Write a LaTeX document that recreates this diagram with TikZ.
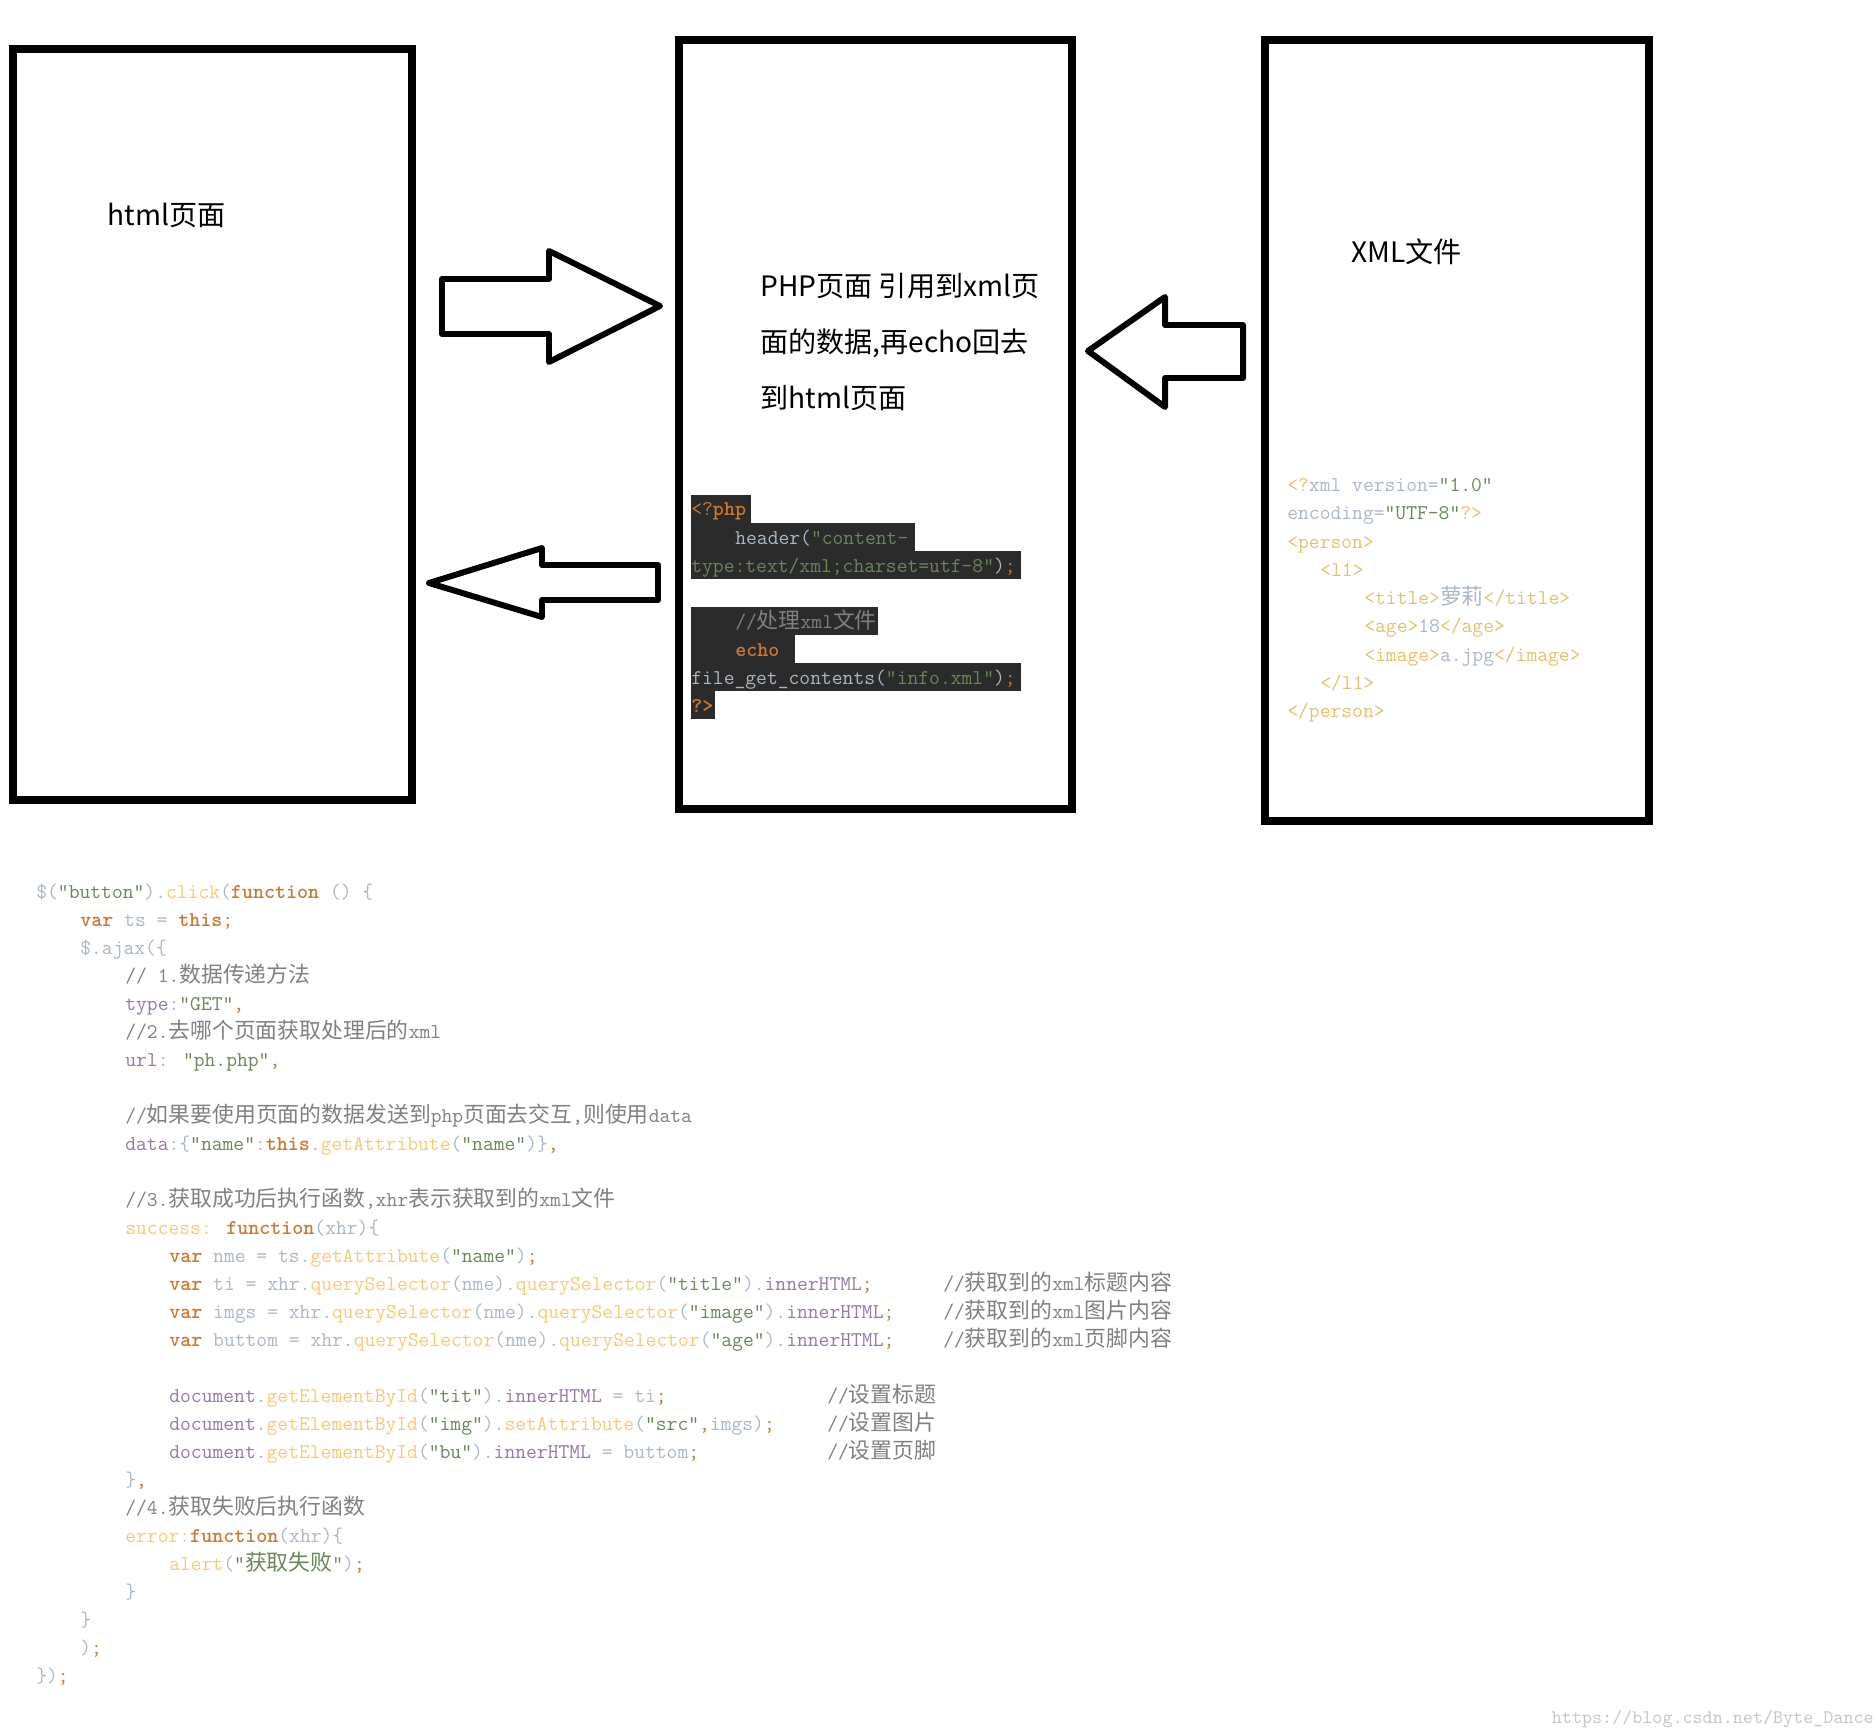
\documentclass[tikz,border=0pt]{standalone}
\usepackage{fontspec}
\setmainfont{Noto Sans CJK SC}
\newfontfamily\cjk{Noto Sans CJK SC}[Scale=1.04]
\usetikzlibrary{positioning}

\definecolor{kwc}{HTML}{CC7832}
\definecolor{strc}{HTML}{6A8759}
\definecolor{fncc}{HTML}{FFC66D}
\definecolor{prc}{HTML}{9876AA}
\definecolor{cmc}{HTML}{808080}
\definecolor{txc}{HTML}{A9B7C6}
\definecolor{tagc}{HTML}{E8BF6A}
\definecolor{bgc}{HTML}{2B2B2B}

\newcommand\kwd[1]{\textcolor{kwc}{\bfseries #1}}
\newcommand\pnc[1]{\textcolor{kwc}{#1}}
\newcommand\strg[1]{\textcolor{strc}{#1}}
\newcommand\fnc[1]{\textcolor{fncc}{#1}}
\newcommand\prop[1]{\textcolor{prc}{#1}}
\newcommand\cmt[1]{\textcolor{cmc}{#1}}
\newcommand\tg[1]{\textcolor{tagc}{#1}}
\newcommand\zh[1]{{\cjk #1}}

\tikzset{
  pagebox/.style={draw=black, line width=4.25pt},
  blockarrow/.style={draw=black, line width=3.4pt, line join=round},
  title/.style={anchor=base west, inner sep=0pt, font=\fontsize{16}{20}\selectfont},
  code/.style={anchor=base west, inner sep=0pt, text=txc, font=\ttfamily\fontsize{11.95}{14}\selectfont},
  darkrow/.style={fill=bgc}
}

\begin{document}
\begin{tikzpicture}[x=0.02cm, y=-0.02cm]
  \useasboundingbox (0,0) rectangle (1876,1736);

  % Cajas
  \draw[pagebox] (13,49) rectangle (412,800);
  \draw[pagebox] (679,40) rectangle (1072,809);
  \draw[pagebox] (1265,40) rectangle (1649,821);

  % Titulos
  \node[title] (htmllbl) at (107,226) {html页面};
  \node[title] (phplbl1) at (760,297) {PHP页面 引用到xml页};
  \node[title] (phplbl2) at (760,353) {面的数据,再echo回去};
  \node[title] (phplbl3) at (760,409) {到html页面};
  \node[title] (xmllbl) at (1351,263) {XML文件};

  % Flechas
  \draw[blockarrow] (442,279) -- (549,279) -- (549,251) -- (660,306) -- (549,362) -- (549,334) -- (442,334) -- cycle;
  \draw[blockarrow] (429,583) -- (542,548) -- (542,565) -- (658,565) -- (658,600) -- (542,600) -- (542,617) -- cycle;
  \draw[blockarrow] (1088,351) -- (1165,297) -- (1165,325) -- (1243,325) -- (1243,378) -- (1165,378) -- (1165,407) -- cycle;

  % Codigo php
  \fill[darkrow] (691,495) rectangle (751,523);
  \fill[darkrow] (691,523) rectangle (915,551);
  \fill[darkrow] (691,551) rectangle (1021,579);
  \fill[darkrow] (691,607) rectangle (878,635);
  \fill[darkrow] (691,635) rectangle (795,663);
  \fill[darkrow] (691,663) rectangle (1021,691);
  \fill[darkrow] (691,691) rectangle (715,719);
  \node[code] (p1) at (691,516) {\textcolor{kwc}{<?\bfseries php}};
  \node[code] (p2) at (735,544) {header(\strg{"content-}};
  \node[code] (p3) at (691,572) {\strg{type:text/xml;charset=utf-8"})\pnc{;}};
  \node[code] (p4) at (735,628) {\cmt{//\zh{处理}xml\zh{文件}}};
  \node[code] (p5) at (735,656) {\kwd{echo}};
  \node[code] (p6) at (691,684) {file\_get\_contents(\strg{"info.xml"})\pnc{;}};
  \node[code] (p7) at (691,712) {\kwd{?>}};

  % Codigo xml
  \node[code] (x0) at (1287,492) {\tg{<?}xml version=\strg{"1.0"}};
  \node[code] (x1) at (1287,520) {encoding=\strg{"UTF-8"}\tg{?>}};
  \node[code] (x2) at (1287,548) {\tg{<person>}};
  \node[code] (x3) at (1320,576) {\tg{<l1>}};
  \node[code] (x4) at (1364,604) {\tg{<title>}\zh{萝莉}\tg{</title>}};
  \node[code] (x5) at (1364,632) {\tg{<age>}18\tg{</age>}};
  \node[code] (x6) at (1364,661) {\tg{<image>}a.jpg\tg{</image>}};
  \node[code] (x7) at (1320,689) {\tg{</l1>}};
  \node[code] (x8) at (1287,717) {\tg{</person>}};

  % Codigo js
  \node[code] (l0) at (36,898) {\$(\strg{"button"}).\fnc{click}(\kwd{function} () \{};
  \node[code] (l1) at (80,926) {\kwd{var} ts = \kwd{this}\pnc{;}};
  \node[code] (l2) at (80,954) {\$.ajax(\{};
  \node[code] (l3) at (125,982) {\cmt{// 1.\zh{数据传递方法}}};
  \node[code] (l4) at (125,1010) {\prop{type}:\strg{"GET"}\pnc{,}};
  \node[code] (l5) at (125,1038) {\cmt{//2.\zh{去哪个页面获取处理后的}xml}};
  \node[code] (l6) at (125,1066) {\prop{url}: \strg{"ph.php"}\pnc{,}};
  \node[code] (l8) at (125,1122) {\cmt{//\zh{如果要使用页面的数据发送到}php\zh{页面去交互},\zh{则使用}data}};
  \node[code] (l9) at (125,1150) {\prop{data}:\{\strg{"name"}:\kwd{this}.\fnc{getAttribute}(\strg{"name"})\}\pnc{,}};
  \node[code] (l11) at (125,1206) {\cmt{//3.\zh{获取成功后执行函数},xhr\zh{表示获取到的}xml\zh{文件}}};
  \node[code] (l12) at (125,1234) {\fnc{success:} \kwd{function}(xhr)\{};
  \node[code] (l13) at (169,1262) {\kwd{var} nme = ts.\fnc{getAttribute}(\strg{"name"})\pnc{;}};
  \node[code] (l14) at (169,1290) {\kwd{var} ti = xhr.\fnc{querySelector}(nme).\fnc{querySelector}(\strg{"title"}).\prop{innerHTML}\pnc{;}};
  \node[code] (l15) at (169,1318) {\kwd{var} imgs = xhr.\fnc{querySelector}(nme).\fnc{querySelector}(\strg{"image"}).\prop{innerHTML}\pnc{;}};
  \node[code] (l16) at (169,1346) {\kwd{var} buttom = xhr.\fnc{querySelector}(nme).\fnc{querySelector}(\strg{"age"}).\prop{innerHTML}\pnc{;}};
  \node[code] (c14) at (943,1290) {\cmt{//\zh{获取到的}xml\zh{标题内容}}};
  \node[code] (c15) at (943,1318) {\cmt{//\zh{获取到的}xml\zh{图片内容}}};
  \node[code] (c16) at (943,1346) {\cmt{//\zh{获取到的}xml\zh{页脚内容}}};
  \node[code] (l18) at (169,1402) {\prop{document}.\fnc{getElementById}(\strg{"tit"}).\prop{innerHTML} = ti\pnc{;}};
  \node[code] (l19) at (169,1430) {\prop{document}.\fnc{getElementById}(\strg{"img"}).\fnc{setAttribute}(\strg{"src"}\pnc{,}imgs)\pnc{;}};
  \node[code] (l20) at (169,1458) {\prop{document}.\fnc{getElementById}(\strg{"bu"}).\prop{innerHTML} = buttom\pnc{;}};
  \node[code] (c18) at (827,1402) {\cmt{//\zh{设置标题}}};
  \node[code] (c19) at (827,1430) {\cmt{//\zh{设置图片}}};
  \node[code] (c20) at (827,1458) {\cmt{//\zh{设置页脚}}};
  \node[code] (l21) at (125,1486) {\}\pnc{,}};
  \node[code] (l22) at (125,1514) {\cmt{//4.\zh{获取失败后执行函数}}};
  \node[code] (l23) at (125,1542) {\fnc{error:}\kwd{function}(xhr)\{};
  \node[code] (l24) at (169,1570) {\fnc{alert}(\strg{"\zh{获取失败}"})\pnc{;}};
  \node[code] (l25) at (125,1598) {\}};
  \node[code] (l26) at (80,1626) {\}};
  \node[code] (l27) at (80,1654) {)\pnc{;}};
  \node[code] (l28) at (36,1682) {\})\pnc{;}};

  % Marca
  \node[anchor=base east, inner sep=0pt, text=black!22, font=\ttfamily\fontsize{10.9}{12}\selectfont] (mark) at (1874,1723) {https://blog.csdn.net/Byte\_Dance};
\end{tikzpicture}
\end{document}
